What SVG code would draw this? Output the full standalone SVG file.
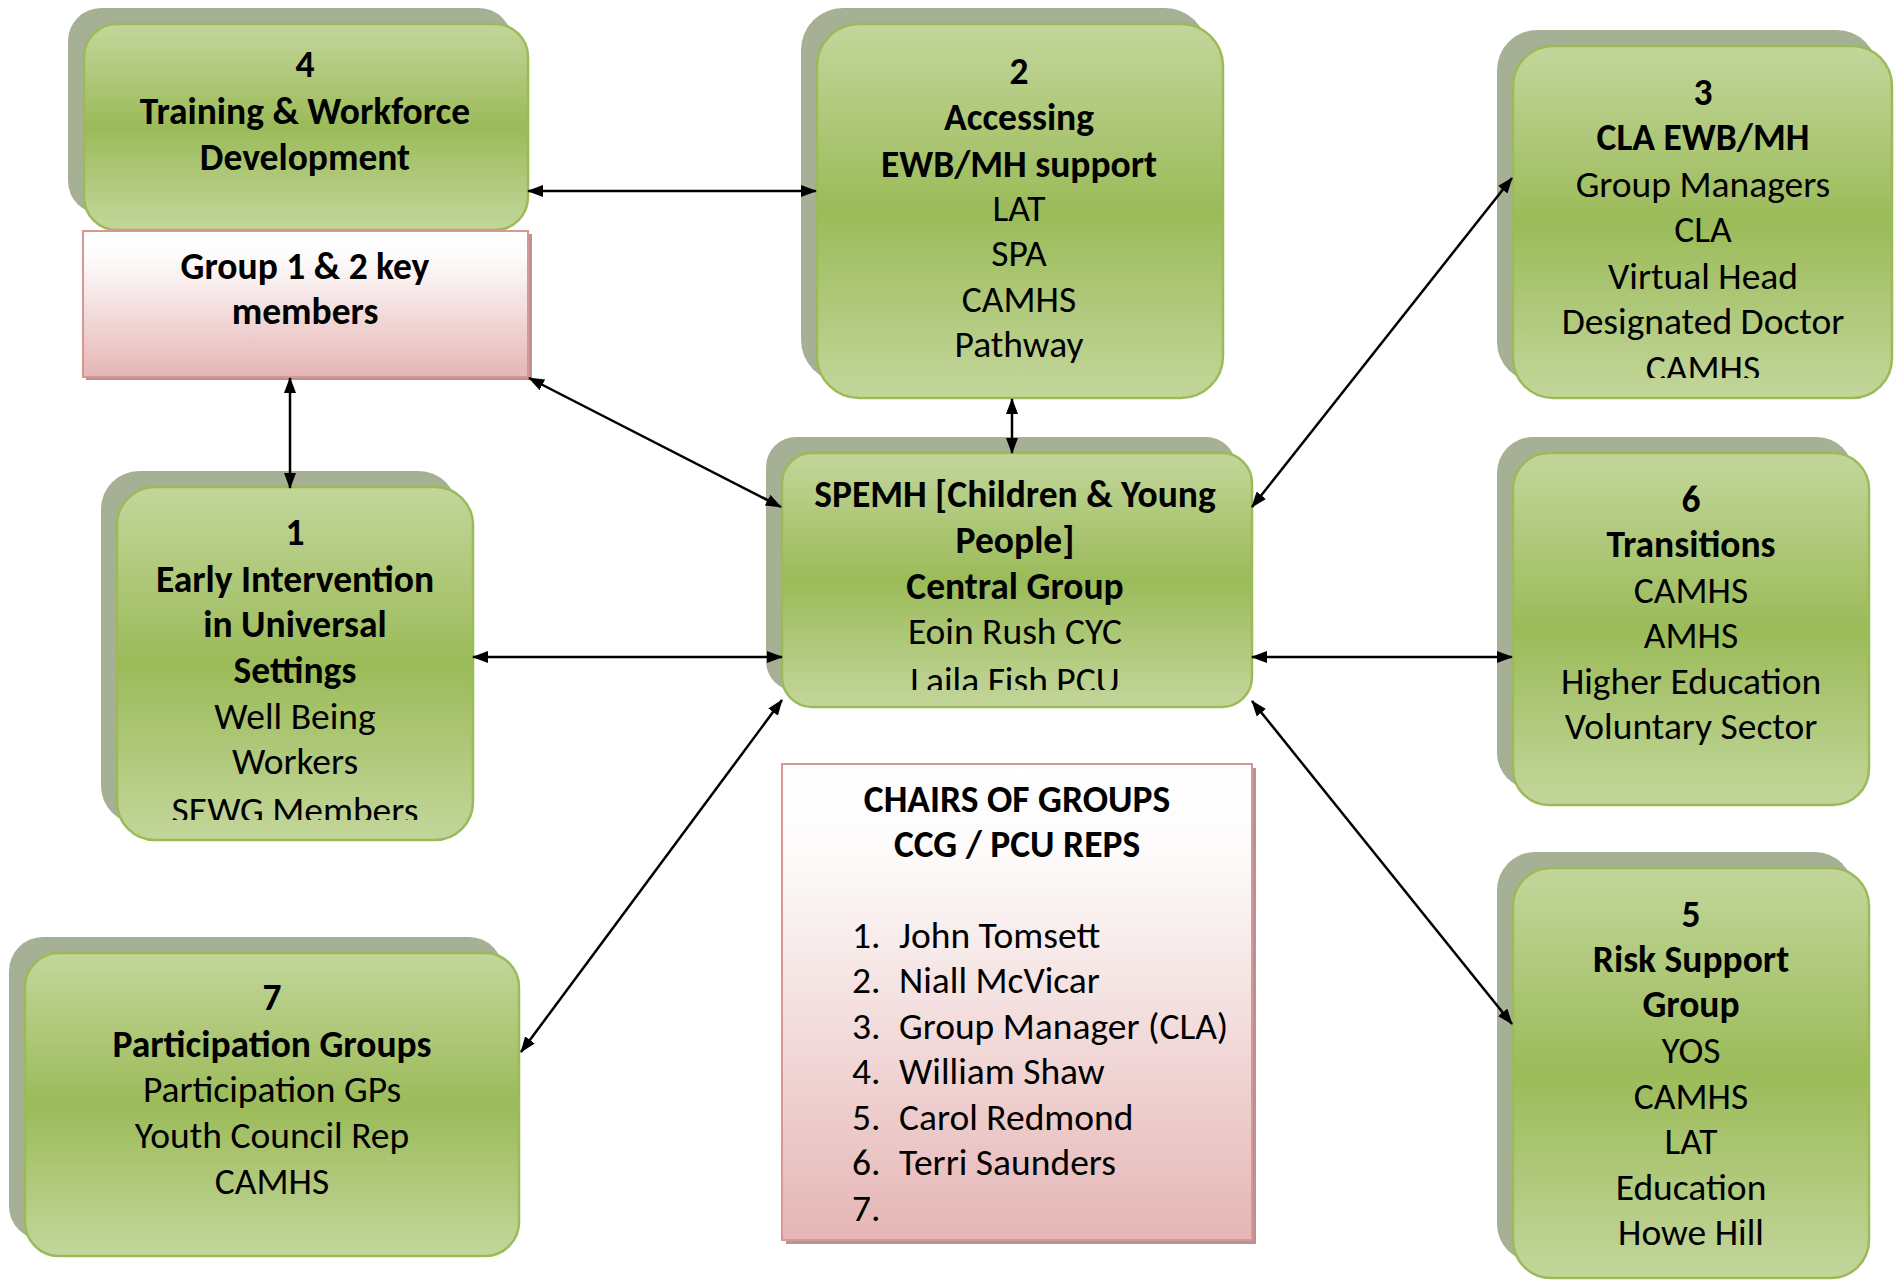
<svg xmlns="http://www.w3.org/2000/svg" width="1894" height="1280" viewBox="0 0 1894 1280">
<defs>
<style>
text{font-family:Carlito,Lato,"Liberation Sans",sans-serif;font-size:37.5px;fill:#000}
.c{text-anchor:middle}
.b{font-weight:bold}
.shadow{fill:#a6b095}
.box{fill:url(#g);stroke:#9bbb59;stroke-width:2.5}
.pink{fill:url(#p);stroke:#d99694;stroke-width:2}
.pshadow{fill:#b99293}
.con line{stroke:#000;stroke-width:2.5;marker-start:url(#ah);marker-end:url(#ah)}
</style>
<linearGradient id="g" x1="0" y1="0" x2="0" y2="1">
<stop offset="0" stop-color="#c3d69b"/>
<stop offset="0.5" stop-color="#9bbb59"/>
<stop offset="1" stop-color="#c3d69b"/>
</linearGradient>
<linearGradient id="p" x1="0" y1="0" x2="0" y2="1">
<stop offset="0" stop-color="#ffffff"/>
<stop offset="0.2" stop-color="#fdfafa"/>
<stop offset="1" stop-color="#e5b6b5"/>
</linearGradient>
<marker id="ah" viewBox="0 0 16 12" refX="15" refY="6" markerWidth="16" markerHeight="12" markerUnits="userSpaceOnUse" orient="auto-start-reverse">
<path d="M0,0 L16,6 L0,12 z" fill="#000"/>
</marker>
<clipPath id="clip3"><rect x="1513" y="46" width="380" height="332"/></clipPath>
<clipPath id="clipC"><rect x="782" y="453" width="470" height="237"/></clipPath>
<clipPath id="clip1"><rect x="117" y="487" width="356" height="333"/></clipPath>
</defs>

<g id="node4">
<rect class="shadow" x="68" y="8" width="444" height="206" rx="33"/>
<rect class="box" x="84" y="24" width="444" height="206" rx="33"/>
<text class="c b" x="305" y="77">4</text>
<text class="c b" x="305" y="124">Training &amp; Workforce</text>
<text class="c b" x="305" y="170">Development</text>
</g>

<g id="group12">
<rect class="pshadow" x="86" y="234" width="446" height="146"/>
<rect class="pink" x="83" y="231" width="445" height="146"/>
<text class="c b" x="305" y="279">Group 1 &amp; 2 key</text>
<text class="c b" x="305" y="324">members</text>
</g>

<g id="node2">
<rect class="shadow" x="801" y="8" width="406" height="374" rx="42"/>
<rect class="box" x="817" y="24" width="406" height="374" rx="42"/>
<text class="c b" x="1019" y="84">2</text>
<text class="c b" x="1019" y="130">Accessing</text>
<text class="c b" x="1019" y="177">EWB/MH support</text>
<text class="c" x="1019" y="221">LAT</text>
<text class="c" x="1019" y="266">SPA</text>
<text class="c" x="1019" y="312">CAMHS</text>
<text class="c" x="1019" y="357">Pathway</text>
</g>

<g id="node3">
<rect class="shadow" x="1497" y="30" width="380" height="352" rx="40"/>
<rect class="box" x="1513" y="46" width="379" height="352" rx="40"/>
<g clip-path="url(#clip3)">
<text class="c b" x="1703" y="105">3</text>
<text class="c b" x="1703" y="150">CLA EWB/MH</text>
<text class="c" x="1703" y="197">Group Managers</text>
<text class="c" x="1703" y="242">CLA</text>
<text class="c" x="1703" y="289">Virtual Head</text>
<text class="c" x="1703" y="334">Designated Doctor</text>
<text class="c" x="1703" y="381">CAMHS</text>
</g>
</g>

<g id="central">
<rect class="shadow" x="766" y="437" width="470" height="254" rx="30"/>
<rect class="box" x="782" y="453" width="470" height="254" rx="30"/>
<g clip-path="url(#clipC)">
<text class="c b" x="1015" y="507">SPEMH [Children &amp; Young</text>
<text class="c b" x="1015" y="553">People]</text>
<text class="c b" x="1015" y="599">Central Group</text>
<text class="c" x="1015" y="644">Eoin Rush CYC</text>
<text class="c" x="1015" y="693">Laila Fish PCU</text>
</g>
</g>

<g id="node1">
<rect class="shadow" x="101" y="471" width="356" height="353" rx="38"/>
<rect class="box" x="117" y="487" width="356" height="353" rx="38"/>
<g clip-path="url(#clip1)">
<text class="c b" x="295" y="545">1</text>
<text class="c b" x="295" y="592">Early Intervention</text>
<text class="c b" x="295" y="637">in Universal</text>
<text class="c b" x="295" y="683">Settings</text>
<text class="c" x="295" y="729">Well Being</text>
<text class="c" x="295" y="774">Workers</text>
<text class="c" x="295" y="823">SEWG Members</text>
</g>
</g>

<g id="node7">
<rect class="shadow" x="9" y="937" width="494" height="303" rx="34"/>
<rect class="box" x="25" y="953" width="494" height="303" rx="34"/>
<text class="c b" x="272" y="1010">7</text>
<text class="c b" x="272" y="1057">Participation Groups</text>
<text class="c" x="272" y="1102">Participation GPs</text>
<text class="c" x="272" y="1148">Youth Council Rep</text>
<text class="c" x="272" y="1194">CAMHS</text>
</g>

<g id="chairs">
<rect class="pshadow" x="786" y="768" width="470" height="476"/>
<rect class="pink" x="782" y="764" width="470" height="476"/>
<text class="c b" x="1017" y="812">CHAIRS OF GROUPS</text>
<text class="c b" x="1017" y="857">CCG / PCU REPS</text>
<text x="852" y="948">1.</text><text x="899" y="948">John Tomsett</text>
<text x="852" y="993">2.</text><text x="899" y="993">Niall McVicar</text>
<text x="852" y="1039">3.</text><text x="899" y="1039">Group Manager (CLA)</text>
<text x="852" y="1084">4.</text><text x="899" y="1084">William Shaw</text>
<text x="852" y="1130">5.</text><text x="899" y="1130">Carol Redmond</text>
<text x="852" y="1175">6.</text><text x="899" y="1175">Terri Saunders</text>
<text x="852" y="1221">7.</text>
</g>

<g id="node6">
<rect class="shadow" x="1497" y="437" width="356" height="352" rx="36"/>
<rect class="box" x="1513" y="453" width="356" height="352" rx="36"/>
<text class="c b" x="1691" y="512">6</text>
<text class="c b" x="1691" y="557">Transitions</text>
<text class="c" x="1691" y="603">CAMHS</text>
<text class="c" x="1691" y="648">AMHS</text>
<text class="c" x="1691" y="694">Higher Education</text>
<text class="c" x="1691" y="739">Voluntary Sector</text>
</g>

<g id="node5">
<rect class="shadow" x="1497" y="852" width="356" height="410" rx="38"/>
<rect class="box" x="1513" y="868" width="356" height="410" rx="38"/>
<text class="c b" x="1691" y="927">5</text>
<text class="c b" x="1691" y="972">Risk Support</text>
<text class="c b" x="1691" y="1017">Group</text>
<text class="c" x="1691" y="1063">YOS</text>
<text class="c" x="1691" y="1109">CAMHS</text>
<text class="c" x="1691" y="1154">LAT</text>
<text class="c" x="1691" y="1200">Education</text>
<text class="c" x="1691" y="1245">Howe Hill</text>
</g>

<g id="connectors" class="con">
<line x1="528" y1="191" x2="816" y2="191"/>
<line x1="290" y1="378" x2="290" y2="488"/>
<line x1="529" y1="378" x2="781" y2="507"/>
<line x1="1012" y1="399" x2="1012" y2="453"/>
<line x1="1252" y1="507" x2="1512" y2="178"/>
<line x1="473" y1="657" x2="782" y2="657"/>
<line x1="1252" y1="657" x2="1512" y2="657"/>
<line x1="521" y1="1052" x2="782" y2="700"/>
<line x1="1252" y1="701" x2="1512" y2="1024"/>
</g>
</svg>
